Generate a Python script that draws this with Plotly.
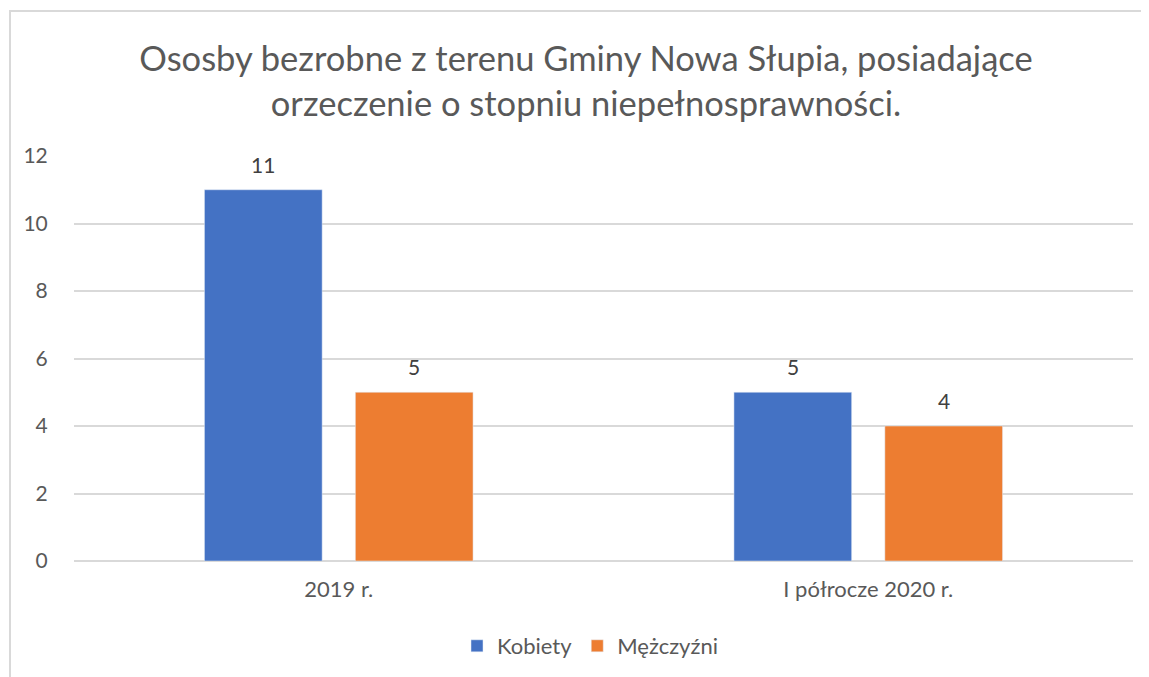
import plotly.graph_objects as go

categories = ["2019 r.", "I półrocze 2020 r."]
kobiety = [11, 5]
mezczyzni = [5, 4]
y_ticks = [0, 2, 4, 6, 8, 10, 12]

# page body has an 8px margin; shift everything accordingly
OFF = 8
W, H = 1149 - OFF, 677 - OFF
L, R, T, B = 74 - OFF, 16, 156 - OFF, 116
pw, ph = W - L - R, H - T - B

def px_x(p):
    return (p - OFF - L) / pw

def px_y(p):
    return (H - B - (p - OFF)) / ph

FONT = "Lato, Open Sans, sans-serif"
BARGAP, GROUPGAP = 0.43, 0.22

fig = go.Figure()
series = [("Kobiety", kobiety, "#4472C4"), ("Mężczyźni", mezczyzni, "#ED7D31")]
for name, vals, col in series:
    fig.add_trace(go.Bar(name=name, x=categories, y=vals, marker_color=col))

# value labels above bars (offset in pixels of each bar inside its group)
cat_px = pw / len(categories)
slot_px = cat_px * (1 - BARGAP) / len(series)
for i, (name, vals, col) in enumerate(series):
    xshift = (i - (len(series) - 1) / 2) * slot_px
    for c, v in zip(categories, vals):
        fig.add_annotation(x=c, y=v, xref="x", yref="y", text=str(v), showarrow=False,
                           xshift=xshift, yanchor="bottom", yshift=11,
                           font=dict(size=21, color="#404040", family=FONT))

fig.update_layout(
    width=W, height=H,
    margin=dict(l=L, r=R, t=T, b=B, autoexpand=False),
    paper_bgcolor="white", plot_bgcolor="white",
    barmode="group", bargap=BARGAP, bargroupgap=GROUPGAP,
    font=dict(family=FONT, color="#595959"),
    title=dict(text="Ososby bezrobne z terenu Gminy Nowa Słupia, posiadające<br>orzeczenie o stopniu niepełnosprawności.",
               x=px_x(586), xanchor="center", xref="paper", y=1 - (71 - OFF) / H, yanchor="middle",
               font=dict(size=34.5, color="#595959", family=FONT)),
    xaxis=dict(showgrid=False, showline=False, ticks="outside", ticklen=9,
               tickcolor="rgba(0,0,0,0)", tickfont=dict(size=22, color="#595959")),
    yaxis=dict(range=[0, 12], tickvals=y_ticks, showgrid=True, gridcolor="#d9d9d9", gridwidth=1.5,
               zeroline=True, zerolinecolor="#d9d9d9", zerolinewidth=1.5, showline=False,
               ticks="outside", ticklen=21, tickcolor="rgba(0,0,0,0)",
               tickfont=dict(size=21, color="#595959")),
    legend=dict(orientation="h", x=px_x(590), xanchor="center", y=px_y(646), yanchor="middle",
                font=dict(size=22, color="#595959"), itemwidth=30, traceorder="normal"),
    showlegend=True,
)

fig.add_shape(type="rect", xref="paper", yref="paper",
              x0=px_x(10), x1=px_x(1170), y0=px_y(700), y1=px_y(11),
              line=dict(color="#d9d9d9", width=2), fillcolor="rgba(0,0,0,0)", layer="below")

fig.write_html("out.html")
